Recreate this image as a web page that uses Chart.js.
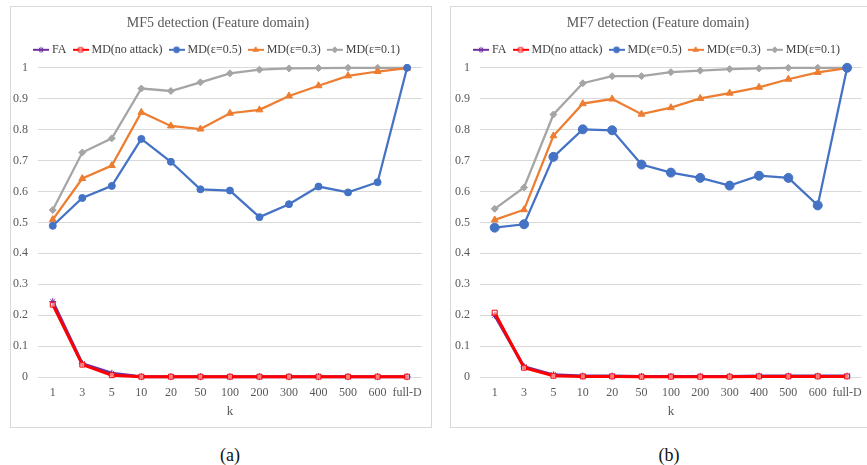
<!DOCTYPE html>
<html>
<head>
<meta charset="utf-8">
<script src="https://cdn.jsdelivr.net/npm/chart.js@4.4.1/dist/chart.umd.min.js"></script>
<style>
  html, body { margin: 0; padding: 0; background: #fff; overflow: hidden; }
  body { width: 867px; height: 465px; position: relative; font-family: 'Liberation Serif', serif; }
  .box { position: absolute; top: 6px; width: 420px; height: 420px; border: 1px solid #d9d9d9; background: #fff; }
  .cap { position: absolute; top: 445px; font-size: 18px; color: #111; width: 60px; text-align: center; }
</style>
</head>
<body>
<div class="box" style="left:10px"><canvas id="c5" width="420" height="420"></canvas></div>
<div class="box" style="left:450px"><canvas id="c7" width="420" height="420"></canvas></div>
<div class="cap" style="left:200px">(a)</div>
<div class="cap" style="left:639px">(b)</div>
<script>
const kLabels = ['1', '3', '5', '10', '20', '50', '100', '200', '300', '400', '500', '600', 'full-D'];

// MF5
const mf5FA     = [0.244, 0.043, 0.012, 0.001, 0.001, 0.001, 0.001, 0.001, 0.001, 0.001, 0.001, 0.001, 0.001];
const mf5MDnone = [0.234, 0.040, 0.006, 0.001, 0.001, 0.001, 0.001, 0.001, 0.001, 0.001, 0.001, 0.001, 0.001];
const mf5MD05   = [0.489, 0.579, 0.618, 0.770, 0.696, 0.607, 0.603, 0.517, 0.559, 0.616, 0.597, 0.630, 1.0];
const mf5MD03   = [0.509, 0.642, 0.684, 0.856, 0.812, 0.802, 0.853, 0.864, 0.909, 0.942, 0.974, 0.988, 0.999];
const mf5MD01   = [0.540, 0.726, 0.772, 0.933, 0.925, 0.953, 0.982, 0.994, 0.998, 0.999, 1.0, 1.0, 1.0];

// MF7
const mf7FA     = [0.200, 0.033, 0.007, 0.003, 0.003, 0.002, 0.002, 0.002, 0.002, 0.003, 0.003, 0.003, 0.003];
const mf7MDnone = [0.208, 0.030, 0.004, 0.002, 0.002, 0.001, 0.001, 0.001, 0.001, 0.002, 0.002, 0.002, 0.002];
const mf7MD05   = [0.483, 0.494, 0.712, 0.801, 0.798, 0.687, 0.661, 0.644, 0.619, 0.651, 0.644, 0.555, 1.0];
const mf7MD03   = [0.508, 0.541, 0.780, 0.884, 0.899, 0.850, 0.871, 0.901, 0.918, 0.937, 0.963, 0.985, 0.999];
const mf7MD01   = [0.544, 0.613, 0.849, 0.950, 0.973, 0.973, 0.986, 0.991, 0.996, 0.998, 1.0, 1.0, 1.0];

const seriesNames = ['FA', 'MD(no attack)', 'MD(\u03b5=0.5)', 'MD(\u03b5=0.3)', 'MD(\u03b5=0.1)'];
const styles = [
  { color: '#7030a0', pointStyle: 'star', width: 3, radius: 3.5, fill: '#7030a0', order: 4 },
  { color: '#ff0000', pointStyle: 'rect', width: 3, radius: 3.5, fill: 'rgba(255,255,255,0.5)', order: 0 },
  { color: '#4472c4', pointStyle: 'circle', width: 2.25, radius: 3.5, fill: '#4472c4', order: 1 },
  { color: '#ed7d31', pointStyle: 'triangle', width: 2.25, radius: 4, fill: '#ed7d31', order: 2 },
  { color: '#a5a5a5', pointStyle: 'rectRot', width: 2.25, radius: 3.5, fill: '#a5a5a5', order: 3 }
];

const serif = "'Liberation Serif', 'Times New Roman', serif";

function legendIcon(st) {
  const c = document.createElement('canvas');
  c.width = 16; c.height = 10;
  const g = c.getContext('2d');
  g.strokeStyle = st.color;
  g.lineWidth = 2;
  g.beginPath(); g.moveTo(0, 5); g.lineTo(16, 5); g.stroke();
  g.fillStyle = st.fill;
  g.lineWidth = 1;
  Chart.helpers.drawPoint(g, { pointStyle: st.pointStyle, radius: 3, rotation: 0, borderWidth: 1 }, 8, 5);
  return c;
}

function makeChart(id, title, data, blueRadius, axisWidth) {
  const datasets = data.map((vals, i) => {
    const st = styles[i];
    const r = i === 2 ? blueRadius : st.radius;
    return {
      label: seriesNames[i],
      data: vals,
      borderColor: st.color,
      backgroundColor: st.fill,
      borderWidth: st.width,
      pointStyle: st.pointStyle,
      pointRadius: r,
      pointBorderColor: st.color,
      pointBackgroundColor: st.fill,
      pointBorderWidth: 1,
      order: st.order,
      clip: false,
      tension: 0
    };
  });
  return new Chart(document.getElementById(id), {
    type: 'line',
    data: { labels: kLabels, datasets },
    options: {
      responsive: false,
      animation: false,
      layout: { padding: { top: 4, right: 6, bottom: 8, left: 0 } },
      plugins: {
        title: {
          display: true, text: title, color: '#595959',
          font: { family: serif, size: 14, weight: 'normal' },
          padding: { top: 4, bottom: 3 }
        },
        legend: {
          position: 'top',
          labels: {
            usePointStyle: true,
            pointStyleWidth: 10,
            padding: 9,
            color: '#404040',
            font: { family: serif, size: 12 },
            generateLabels: (chart) => chart.data.datasets.map((ds, i) => ({
              text: ds.label,
              pointStyle: legendIcon(styles[i]),
              fontColor: '#404040',
              datasetIndex: i,
              hidden: false,
              lineWidth: 0
            }))
          }
        },
        tooltip: { enabled: false }
      },
      scales: {
        x: {
          offset: true,
          afterFit: (s) => { s.height = 42; },
          grid: { display: false, drawTicks: false },
          border: { display: false },
          ticks: { color: '#595959', font: { family: serif, size: 12 }, padding: 9, maxRotation: 0, autoSkip: false },
          title: { display: true, text: 'k', color: '#595959', font: { family: serif, size: 13 }, padding: { top: 2, bottom: 0 } }
        },
        y: {
          min: 0, max: 1,
          afterFit: (s) => { s.width = axisWidth; },
          grid: { color: '#d9d9d9', lineWidth: 1, drawTicks: false },
          border: { display: false },
          ticks: {
            stepSize: 0.1, color: '#595959', font: { family: serif, size: 12 }, padding: 10,
            callback: (v) => String(Number(v.toFixed(1)))
          }
        }
      }
    },
    plugins: [{
      id: 'legendGap',
      beforeInit(chart) {
        const fit = chart.legend.fit;
        chart.legend.fit = function () { fit.call(this); this.height += 2; };
      }
    }]
  });
}

makeChart('c5', 'MF5 detection (Feature domain)', [mf5FA, mf5MDnone, mf5MD05, mf5MD03, mf5MD01], 3.5, 27);
makeChart('c7', 'MF7 detection (Feature domain)', [mf7FA, mf7MDnone, mf7MD05, mf7MD03, mf7MD01], 4.5, 29);
</script>
</body>
</html>
